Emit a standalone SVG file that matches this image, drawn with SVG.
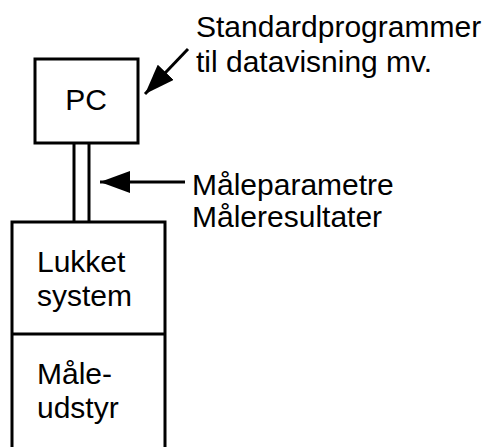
<svg xmlns="http://www.w3.org/2000/svg" width="503" height="447" viewBox="0 0 503 447">
<style>
.box{fill:none;stroke:#000;stroke-width:3}
.ln{fill:none;stroke:#000;stroke-width:3}
text{font-family:"Liberation Sans",Arial,sans-serif;font-size:30px;fill:#000}
</style>
<defs>
<marker id="ah" markerUnits="userSpaceOnUse" markerWidth="32" markerHeight="22" refX="30" refY="11" orient="auto">
<path d="M0,0 L30,11 L0,22 Z" fill="#000"/>
</marker>
</defs>
<g id="pc">
<rect class="box" x="35" y="59" width="103" height="84"/>
<text x="86" y="110" text-anchor="middle">PC</text>
</g>
<g id="lukket">
<path class="box" d="M12,447 L12,222 L165,222 L165,447"/>
<text x="37" y="272">Lukket</text>
<text x="37" y="306">system</text>
</g>
<g id="maaleudstyr">
<line class="ln" x1="12" y1="334" x2="165" y2="334"/>
<text x="37" y="384">Måle-</text>
<text x="37" y="418">udstyr</text>
</g>
<g id="labels">
<text x="196" y="37">Standardprogrammer</text>
<text x="196" y="72">til datavisning mv.</text>
<text x="192" y="195">Måleparametre</text>
<text x="192" y="227">Måleresultater</text>
</g>
<g id="connectors">
<line class="ln" x1="74" y1="143" x2="74" y2="222"/>
<line class="ln" x1="89" y1="143" x2="89" y2="222"/>
<line class="ln" x1="188" y1="49" x2="145" y2="94" marker-end="url(#ah)"/>
<line class="ln" x1="185" y1="182" x2="100" y2="182" marker-end="url(#ah)"/>
</g>
</svg>
